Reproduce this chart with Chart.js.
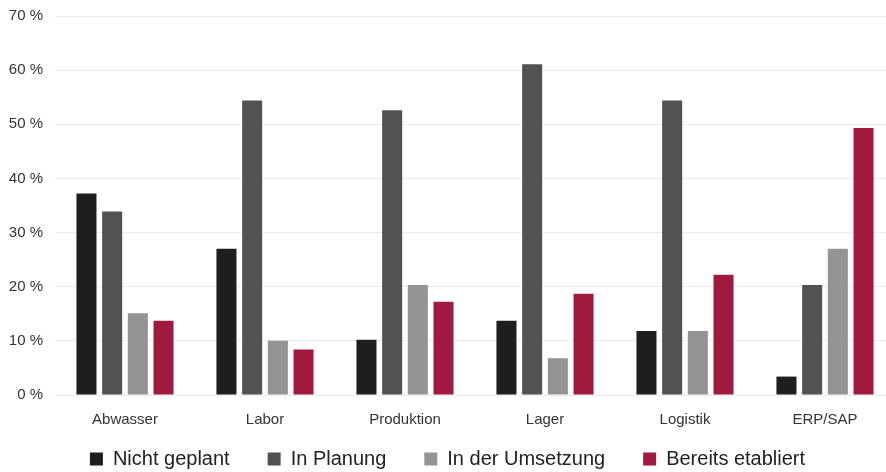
<!DOCTYPE html>
<html>
<head>
<meta charset="utf-8">
<script src="https://cdn.jsdelivr.net/npm/chart.js@4"></script>
<style>
  html, body { margin: 0; padding: 0; background: #fff; }
  .chart-wrapper { width: 886px; height: 472px; overflow: hidden; }
</style>
</head>
<body>
<div class="chart-wrapper">
  <canvas id="myChart" width="896" height="472"></canvas>
</div>
<script>
// Stand der Einführung je Bereich, Anteil in Prozent
var bereiche = ["Abwasser", "Labor", "Produktion", "Lager", "Logistik", "ERP/SAP"];

var nichtGeplant = [37.2, 27.0, 10.2, 13.7, 11.8, 3.4];
var inPlanung = [33.9, 54.4, 52.6, 61.1, 54.4, 20.3];
var inUmsetzung = [15.1, 10.0, 20.3, 6.8, 11.8, 27.0];
var bereitsEtabliert = [13.7, 8.4, 17.2, 18.7, 22.2, 49.3];

var yTicks = [0, 10, 20, 30, 40, 50, 60, 70];

var schrift = "'Liberation Sans', Arial, sans-serif";

function serie(label, data, color) {
  return {
    label: label,
    data: data,
    backgroundColor: color,
    borderWidth: 0,
    barPercentage: 0.78,
    categoryPercentage: 0.734
  };
}

// Legende etwas näher an die Achsenbeschriftung rücken
var legendeVersatz = {
  id: "legendeVersatz",
  afterLayout: function (chart) {
    var legend = chart.legend;
    if (legend) {
      legend.top -= 26;
      legend.bottom -= 26;
    }
  }
};

var ctx = document.getElementById("myChart");
new Chart(ctx, {
  type: "bar",
  data: {
    labels: bereiche,
    datasets: [
      serie("Nicht geplant", nichtGeplant, "#1f1d1e"),
      serie("In Planung", inPlanung, "#525254"),
      serie("In der Umsetzung", inUmsetzung, "#949496"),
      serie("Bereits etabliert", bereitsEtabliert, "#a0193f")
    ]
  },
  plugins: [legendeVersatz],
  options: {
    responsive: false,
    animation: false,
    layout: { padding: { left: 0, right: 1, top: 16, bottom: -33 } },
    plugins: {
      tooltip: { enabled: false },
      legend: {
        position: "bottom",
        labels: {
          boxWidth: 13,
          boxHeight: 13,
          padding: 38,
          color: "#222",
          font: { family: schrift, size: 20 }
        }
      }
    },
    scales: {
      x: {
        grid: { display: false },
        border: { display: false },
        ticks: {
          color: "#333",
          padding: 8,
          font: { family: schrift, size: 15 }
        }
      },
      y: {
        min: 0,
        max: 70,
        afterBuildTicks: function (axis) {
          axis.ticks = yTicks.map(function (v) { return { value: v }; });
        },
        afterFit: function (axis) {
          axis.width = 55;
          axis.paddingTop = 0;
        },
        grid: { color: "#ebebeb", drawTicks: false },
        border: { display: false },
        ticks: {
          color: "#333",
          padding: 12,
          font: { family: schrift, size: 15 },
          callback: function (v) { return v + " %"; }
        }
      }
    }
  }
});
</script>
</body>
</html>
